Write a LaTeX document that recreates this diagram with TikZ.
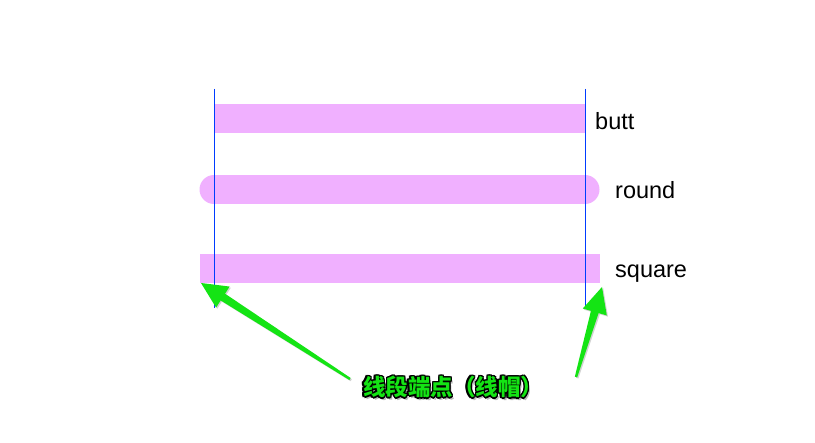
\documentclass[tikz,border=0pt]{standalone}
\usepackage{fontspec}
\setmainfont{Liberation Sans}
\newfontfamily\cjk{Noto Sans CJK SC}
\usetikzlibrary{calc,shadows}
\definecolor{capfill}{RGB}{240,176,255}
\definecolor{guide}{RGB}{0,60,255}
\definecolor{hgreen}{RGB}{20,228,20}
\tikzset{
  capline/.style={draw=capfill,line width=29pt},
  guideline/.style={draw=guide,line width=1pt},
  caplabel/.style={anchor=base west,inner sep=0pt,font=\fontsize{23.5}{26}\selectfont},
  hintarrow/.style={fill=hgreen,drop shadow={opacity=0.35,shadow xshift=1.2pt,shadow yshift=-1.2pt}},
  captext/.style={inner sep=0pt,font=\fontsize{22.5}{26}\selectfont},
}
\newcommand\hintarrow[3]{% prefix, tail, tip
  \coordinate (#1b) at ($(#3)!26pt!(#2)$);
  \fill[hintarrow] ($(#2)!1.2pt!90:(#3)$) -- ($(#1b)!4pt!-90:(#2)$) -- ($(#1b)!12.5pt!-90:(#2)$)
     -- (#3) -- ($(#1b)!12.5pt!90:(#2)$) -- ($(#1b)!4pt!90:(#2)$) -- ($(#2)!1.2pt!-90:(#3)$) -- cycle;
}
\newcommand\capstr{\cjk\bfseries 线段端点（线帽）}
\begin{document}
\begin{tikzpicture}[x=1pt,y=-1pt]
\useasboundingbox[fill=white] (0,0) rectangle (815,443);
% end points of the three segments
\coordinate (b1) at (214,118.5); \coordinate (b2) at (585,118.5);
\coordinate (r1) at (214,189.5); \coordinate (r2) at (585,189.5);
\coordinate (s1) at (214,268.5); \coordinate (s2) at (585,268.5);
\draw[capline,line cap=butt] (b1) -- (b2);
\draw[capline,line cap=round] (r1) -- (r2);
\draw[capline,line cap=rect] (s1) -- (s2);
% guide lines
\coordinate (gl1) at (214,89); \coordinate (gl2) at (214,308);
\coordinate (gr1) at (585.5,89); \coordinate (gr2) at (585.5,308);
\draw[guideline] (gl1) -- (gl2);
\draw[guideline] (gr1) -- (gr2);
% labels
\node[caplabel] (lb) at (595,130) {butt};
\node[caplabel] (lr) at (615,199) {round};
\node[caplabel] (ls) at (615,278) {square};
% arrows
\coordinate (at1) at (350,379); \coordinate (ah1) at (201,283);
\coordinate (at2) at (576,377); \coordinate (ah2) at (602,287);
\hintarrow{aa}{at1}{ah1}
\hintarrow{ab}{at2}{ah2}
% caption with outline and shadow
\coordinate (cc) at (453,387);
\node[captext,text=black!45,opacity=0.6] at ($(cc)+(2.4,2.4)$) {\capstr};
\foreach \a in {0,30,...,330}{
  \node[captext,text=black] at ($(cc)+(\a:1.4)$) {\capstr};
}
\node[captext,text=hgreen] (cap) at (cc) {\capstr};
\end{tikzpicture}
\end{document}
